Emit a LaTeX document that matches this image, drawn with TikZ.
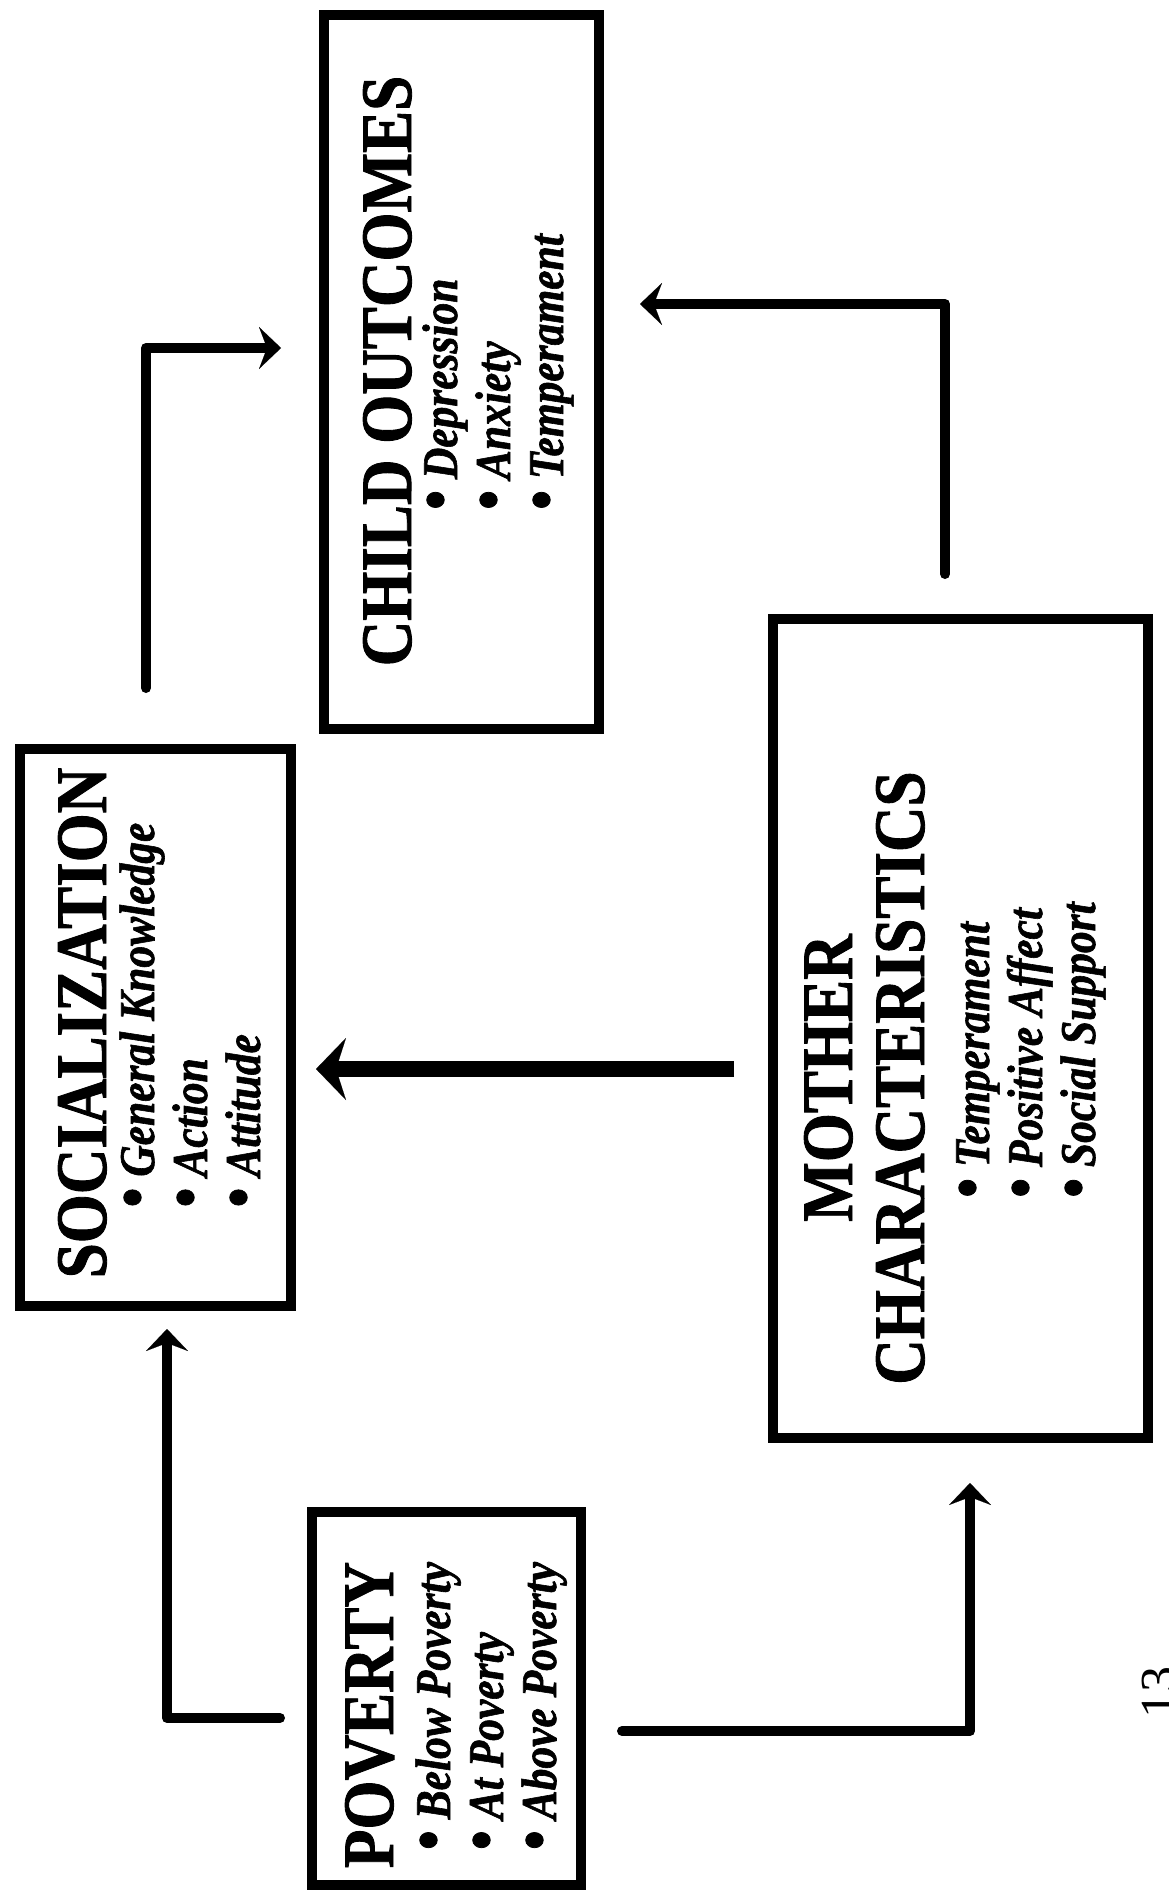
\documentclass[tikz,border=0pt]{standalone}
\usepackage{fontspec}
\setmainfont{Liberation Serif}
\newfontfamily\cfont[FakeStretch=0.87,BoldFeatures={FakeBold=1.2},BoldItalicFeatures={FakeBold=1.2}]{Liberation Serif}
\usetikzlibrary{arrows.meta,calc}
\newcommand{\bul}{{\upshape\scalebox{1.3}{\textbullet}}\ }
\begin{document}
\begin{tikzpicture}[x=1pt,y=1pt,
  boxnode/.style={draw,line width=10pt,inner sep=0pt,outer sep=0pt},
  ttl/.style={rotate=90,inner sep=0pt,anchor=base,font=\cfont\bfseries\fontsize{72.5}{72}\selectfont},
  lst/.style={rotate=90,inner sep=0pt,anchor=base,font=\cfont\bfseries\itshape\fontsize{50}{53}\selectfont},
  conn/.style={line width=10pt,line cap=round,line join=round,-{Stealth[length=22pt,width=42pt,inset=8pt,line width=0.1pt]}},
  thickconn/.style={line width=16pt,-{Stealth[length=30pt,width=62pt,inset=10pt,line width=0.1pt]}}
]
\fill[white] (0,0) rectangle (1168,-1894);
\useasboundingbox (0,0) rectangle (1168,-1894);

% boxes
\node[boxnode,minimum width=271.5pt,minimum height=557pt] (soc) at (155.25,-1027.5) {};
\node[boxnode,minimum width=275pt,minimum height=714pt] (child) at (461.5,-372) {};
\node[boxnode,minimum width=375pt,minimum height=819pt] (mother) at (960.5,-1028.5) {};
\node[boxnode,minimum width=269pt,minimum height=373pt] (pov) at (446.5,-1698.5) {};

% texts
\node[ttl] (childT) at (411,-371) {CHILD OUTCOMES};
\node[lst] (childL) at (457,-372) {\begin{tabular}[t]{@{}l@{}}
\bul Depression\\
\bul Anxiety\\
\bul Temperament
\end{tabular}};

\node[ttl] (socT) at (106,-1023) {SOCIALIZATION};
\node[lst] (socL) at (154,-1015) {\begin{tabular}[t]{@{}l@{}}
\bul General Knowledge\\
\bul Action\\
\bul Attitude
\end{tabular}};

\node[ttl] (motherT) at (852,-1078) {\begin{tabular}[t]{@{}c@{}}MOTHER\\CHARACTERISTICS\end{tabular}};
\node[lst] (motherL) at (989,-1050) {\begin{tabular}[t]{@{}l@{}}
\bul Temperament\\
\bul Positive Affect\\
\bul Social Support
\end{tabular}};

\node[ttl] (povT) at (393,-1715) {POVERTY};
\node[lst] (povL) at (450,-1706) {\begin{tabular}[t]{@{}l@{}}
\bul Below Poverty\\
\bul At Poverty\\
\bul Above Poverty
\end{tabular}};

\node[rotate=90,inner sep=0pt,anchor=base west,font=\fontsize{52}{54}\selectfont] (pg) at (1176,-1719) {13};

% connectors
\draw[conn] ([shift={(-9.25,61)}]soc.north) |- ([shift={(-43,24)}]child.west);
\draw[conn] ([shift={(-15.5,45)}]mother.north) |- ([shift={(41,68)}]child.east);
\draw[thickconn] ([shift={(-39,-40.5)}]mother.west) -- ([shift={(25,-41.5)}]soc.east);
\draw[conn] ([shift={(-32,-19.5)}]pov.west) -| ([shift={(11.75,-23)}]soc.south);
\draw[conn] ([shift={(41,-32.5)}]pov.east) -| ([shift={(9.5,-45)}]mother.south);
\end{tikzpicture}
\end{document}
